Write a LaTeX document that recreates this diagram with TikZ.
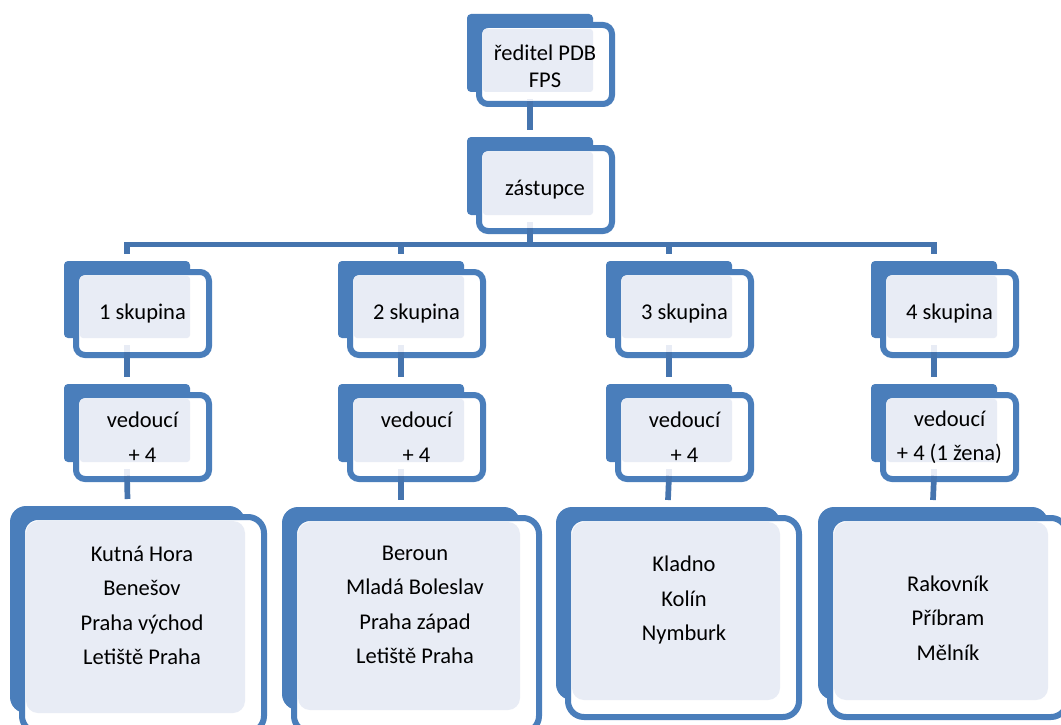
\documentclass[tikz,border=0pt]{standalone}
\usepackage{fontspec}
\setmainfont{Carlito}
\definecolor{sablue}{HTML}{4A7EBB}
\definecolor{saconn}{HTML}{4574AE}
\definecolor{salight}{HTML}{E8ECF5}
\tikzset{
  backS/.style={fill=sablue, rounded corners=4pt, inner sep=0, outer sep=0},
  backL/.style={fill=sablue, rounded corners=16pt, inner sep=0, outer sep=0},
  frontS/.style={draw=sablue, line width=6pt, fill=white, rounded corners=9pt, inner sep=0, outer sep=3pt},
  frontL/.style={draw=sablue, line width=6pt, fill=white, rounded corners=16pt, inner sep=0, outer sep=3pt},
  liteS/.style={fill=salight, rounded corners=3pt, inner sep=0, outer sep=0},
  liteL/.style={fill=salight, rounded corners=12pt, inner sep=0, outer sep=0},
  conn/.style={draw=saconn, line width=5.7pt},
  lbl/.style={align=center, text=black, inner sep=0, font=\fontsize{22.5}{34.5}\selectfont},
}
% #1 name, #2 L, #3 T, #4 R, #5 B (back box), #6 front bottom, #7 S or L
\newcommand\orgunit[7]{%
  \node[back#7, minimum width={(#4-#2)*1pt}, minimum height={(#5-#3)*1pt}]
    (#1b) at ({(#2+#4)/2},{(#3+#5)/2}) {};
  \node[front#7, minimum width={(#4-#2+7)*1pt}, minimum height={(#6-#3-14)*1pt}]
    (#1f) at ({(#2+9+#4+22)/2},{(#3+8+#6)/2}) {};
  \node[lite#7, minimum width={(#4-#2-16)*1pt}, minimum height={(#5-#3-15)*1pt}]
    (#1l) at ({(#2+16+#4)/2},{(#3+15+#5)/2}) {};
}
\newcommand\palestub[1]{%
  \fill[salight] ([xshift=-2.85pt,yshift=-7pt]#1b.south) rectangle ([xshift=2.85pt,yshift=6pt]#1b.south |- #1f.south);
}
\begin{document}
\begin{tikzpicture}[x=1pt,y=-1pt]
\useasboundingbox (0,0) rectangle (1061,725);
\fill[white] (0,0) rectangle (1061,725);

% boxes
\orgunit{top}{467}{14}{593}{92}{107}{S}
\orgunit{z}{467}{137}{593}{215}{234}{S}
\orgunit{g1}{64}{261}{190}{338}{358}{S}
\orgunit{g2}{338}{261}{464}{338}{358}{S}
\orgunit{g3}{606}{261}{732}{338}{358}{S}
\orgunit{g4}{871}{261}{997}{338}{358}{S}
\orgunit{v1}{64}{384}{190}{462}{482}{S}
\orgunit{v2}{338}{384}{464}{462}{482}{S}
\orgunit{v3}{606}{384}{732}{462}{482}{S}
\orgunit{v4}{871}{384}{997}{462}{482}{S}
\orgunit{d1}{10}{506}{245}{713}{735}{L}
\orgunit{d2}{282}{507}{520}{710}{735}{L}
\orgunit{d3}{556}{507}{780}{700}{720}{L}
\orgunit{d4}{818}{507}{1048}{700}{720}{L}

% pale stubs of the connectors inside the boxes
\palestub{top}
\palestub{z}
\foreach \i in {1,...,4} {\palestub{g\i}\palestub{v\i}}

% connectors
\coordinate (bar) at (531,244.5);
\draw[conn] ([yshift=6pt]topb.south |- topf.south) -- ([yshift=7pt]zb.north);
\draw[conn] ([yshift=6pt]zb.south |- zf.south) -- (zb.south |- bar);
\draw[conn, line cap=rect] (g1b.north |- bar) -- (g4b.north |- bar);
\foreach \i in {1,...,4} {
  \draw[conn] (g\i b.north |- bar) -- ([yshift=7pt]g\i b.north);
  \draw[conn] ([yshift=6pt]g\i b.south |- g\i f.south) -- ([yshift=7pt]v\i b.north);
  \draw[conn] ([yshift=6pt]v\i b.south |- v\i f.south) -- ([yshift=7pt]d\i b.north);
}

% labels
\node[lbl, font=\fontsize{22.5}{27}\selectfont] (ttop) at (545,66) {ředitel PDB\\FPS};
\node[lbl] (tz) at (545,190) {zástupce};
\node[lbl] (tg1) at (g1f) {1 skupina};
\node[lbl] (tg2) at (g2f) {2 skupina};
\node[lbl] (tg3) at (g3f) {3 skupina};
\node[lbl] (tg4) at (g4f) {4 skupina};
\node[lbl] (tv1) at (v1f) {vedoucí\\+ 4};
\node[lbl] (tv2) at (v2f) {vedoucí\\+ 4};
\node[lbl] (tv3) at (v3f) {vedoucí\\+ 4};
\node[lbl] (tv4) at (v4f) {vedoucí\\+ 4 (1 žena)};
\node[lbl] (td1) at (142,605.5) {Kutná Hora\\Benešov\\Praha východ\\Letiště Praha};
\node[lbl] (td2) at (415,605) {Beroun\\Mladá Boleslav\\Praha západ\\Letiště Praha};
\node[lbl] (td3) at (684,600) {Kladno\\Kolín\\Nymburk};
\node[lbl] (td4) at (948,618) {Rakovník\\Příbram\\Mělník};
\end{tikzpicture}
\end{document}
